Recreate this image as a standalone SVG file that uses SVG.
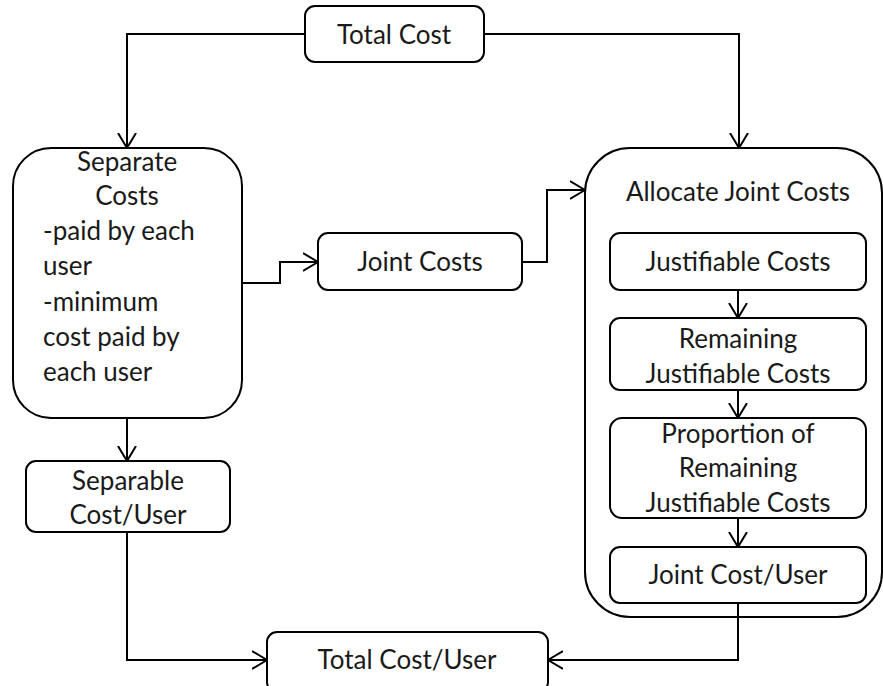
<svg xmlns="http://www.w3.org/2000/svg" width="883" height="686" viewBox="0 0 883 686">
<defs>
<style>
.box{fill:#fff;stroke:#000;stroke-width:2}
.t{font-family:Lato,"Liberation Sans",sans-serif;font-size:26px;fill:#1a1a1a}
.c{text-anchor:middle}
.ln{fill:none;stroke:#000;stroke-width:2}
</style>
<marker id="ah" viewBox="0 0 16 20" refX="15" refY="10" markerWidth="16" markerHeight="20" markerUnits="userSpaceOnUse" orient="auto">
<path d="M0,1 L15,10 L0,19" fill="none" stroke="#000" stroke-width="2"/>
</marker>
</defs>
<rect width="883" height="686" fill="#fff"/>
<g id="total-cost">
<rect class="box" x="305" y="6" width="179" height="56" rx="10"/>
<text class="t c" x="394" y="44">Total Cost</text>
</g>
<g id="separate-costs">
<rect class="box" x="13" y="148" width="229" height="270" rx="38"/>
<text class="t c" x="127" y="171">Separate</text>
<text class="t c" x="127" y="205">Costs</text>
<text class="t" x="43" y="240">-paid by each</text>
<text class="t" x="43" y="275">user</text>
<text class="t" x="43" y="311">-minimum</text>
<text class="t" x="43" y="346">cost paid by</text>
<text class="t" x="43" y="381">each user</text>
</g>
<g id="separable-cost-user">
<rect class="box" x="26" y="461" width="204" height="71" rx="10"/>
<text class="t c" x="128" y="490">Separable</text>
<text class="t c" x="128" y="524">Cost/User</text>
</g>
<g id="joint-costs">
<rect class="box" x="318" y="233" width="204" height="57" rx="10"/>
<text class="t c" x="420" y="271">Joint Costs</text>
</g>
<g id="allocate-joint-costs">
<rect class="box" x="585" y="148" width="297" height="469" rx="45"/>
<text class="t c" x="738" y="201">Allocate Joint Costs</text>
</g>
<g id="justifiable-costs">
<rect class="box" x="610" y="233" width="256" height="57" rx="10"/>
<text class="t c" x="738" y="271">Justifiable Costs</text>
</g>
<g id="remaining-justifiable-costs">
<rect class="box" x="610" y="318" width="256" height="72" rx="10"/>
<text class="t c" x="738" y="348">Remaining</text>
<text class="t c" x="738" y="383">Justifiable Costs</text>
</g>
<g id="proportion">
<rect class="box" x="610" y="418" width="256" height="100" rx="12"/>
<text class="t c" x="738" y="443">Proportion of</text>
<text class="t c" x="738" y="477">Remaining</text>
<text class="t c" x="738" y="512">Justifiable Costs</text>
</g>
<g id="joint-cost-user">
<rect class="box" x="610" y="547" width="256" height="56" rx="10"/>
<text class="t c" x="738" y="584">Joint Cost/User</text>
</g>
<g id="total-cost-user">
<rect class="box" x="267" y="632" width="281" height="60" rx="10"/>
<text class="t c" x="407" y="669">Total Cost/User</text>
</g>
<g id="connectors">
<path class="ln" d="M305,34 H127 V148" marker-end="url(#ah)"/>
<path class="ln" d="M484,34 H739 V148" marker-end="url(#ah)"/>
<path class="ln" d="M242,283 H280 V262 H318" marker-end="url(#ah)"/>
<path class="ln" d="M522,262 H547 V190 H585" marker-end="url(#ah)"/>
<path class="ln" d="M127,418 V461" marker-end="url(#ah)"/>
<path class="ln" d="M127,532 V660 H267" marker-end="url(#ah)"/>
<path class="ln" d="M738,290 V318" marker-end="url(#ah)"/>
<path class="ln" d="M738,390 V418" marker-end="url(#ah)"/>
<path class="ln" d="M738,518 V547" marker-end="url(#ah)"/>
<path class="ln" d="M738,603 V660 H548" marker-end="url(#ah)"/>
</g>
</svg>
